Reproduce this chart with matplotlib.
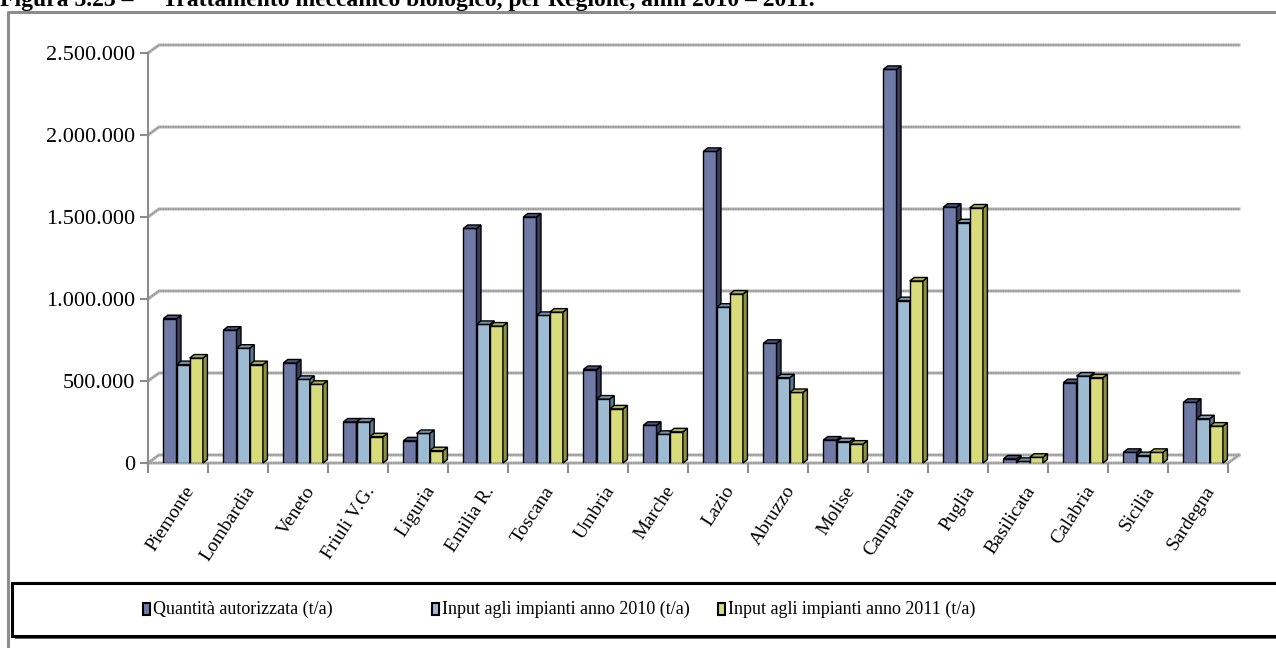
import matplotlib
matplotlib.use("Agg")
import matplotlib.pyplot as plt
from matplotlib.patches import Polygon, Rectangle
from matplotlib.lines import Line2D
from matplotlib.ticker import FuncFormatter

plt.rcParams["font.family"] = ["Liberation Serif", "DejaVu Serif"]

# ---- data -------------------------------------------------------------
regioni = ["Piemonte", "Lombardia", "Veneto", "Friuli V.G.", "Liguria",
           "Emilia R.", "Toscana", "Umbria", "Marche", "Lazio", "Abruzzo",
           "Molise", "Campania", "Puglia", "Basilicata", "Calabria",
           "Sicilia", "Sardegna"]

autorizzata = [880000, 810000, 610000, 250000, 135000, 1430000, 1500000,
               570000, 230000, 1900000, 730000, 140000, 2400000, 1560000,
               25000, 490000, 65000, 370000]
input_2010 = [600000, 700000, 510000, 250000, 180000, 845000, 900000,
              390000, 175000, 950000, 520000, 130000, 990000, 1465000,
              10000, 530000, 45000, 270000]
input_2011 = [640000, 600000, 480000, 160000, 75000, 835000, 920000,
              330000, 190000, 1030000, 430000, 115000, 1110000, 1555000,
              35000, 520000, 65000, 225000]

serie = ["Quantità autorizzata (t/a)",
         "Input agli impianti anno 2010 (t/a)",
         "Input agli impianti anno 2011 (t/a)"]
y_ticks = [0, 500000, 1000000, 1500000, 2000000, 2500000]

titolo = "Figura 3.23 \u2013     Trattamento meccanico biologico, per Regione, anni 2010 \u2013 2011."

# face colours: front, side, top
colori = [("#6F7AA6", "#363E60", "#4A5480"),
          ("#9DBBD3", "#5C7990", "#7893A8"),
          ("#D8DC7A", "#8D9240", "#ABB055")]

# ---- figure geometry (pixels) ----------------------------------------
W, H = 1276, 648
fig = plt.figure(figsize=(W / 100, H / 100), dpi=100)


def fx(px):
    return px / W


def fy(py):
    return 1 - py / H


AX_L, AX_R, AX_T, AX_B = 148, 1228, 53, 463
ax = fig.add_axes([fx(AX_L), fy(AX_B), (AX_R - AX_L) / W, (AX_B - AX_T) / H])
n = len(regioni)
ymax = 2500000
ax.set_xlim(0, n)
ax.set_ylim(0, ymax)

ux = n / (AX_R - AX_L)          # data units per pixel (x)
uy = ymax / (AX_B - AX_T)       # data units per pixel (y)

# ---- walls and floor ----------------------------------------------------
grid_c = "#b3b3b3"
grid_dot = "#8a8a8a"
wdx, wdy = 11 * ux, 8 * uy


def grid_line(xs, ys):
    ax.add_line(Line2D(xs, ys, color=grid_c, lw=2.2, clip_on=False, zorder=1))
    ax.add_line(Line2D(xs, ys, color=grid_dot, lw=0.9, ls=(0, (1, 1)),
                       clip_on=False, zorder=1.1))


for t in y_ticks:
    grid_line([0, wdx, n + wdx], [t, t + wdy, t + wdy])

# floor front edge and right edge
grid_line([0, n, n + wdx], [0, 0, wdy])

for s in ["top", "right", "bottom"]:
    ax.spines[s].set_visible(False)
ax.spines["left"].set_color("#8c8c8c")
ax.spines["left"].set_linewidth(1.5)
ax.set_facecolor("none")

ax.set_yticks(y_ticks)
ax.yaxis.set_major_formatter(
    FuncFormatter(lambda v, p: f"{int(v):,}".replace(",", ".")))
ax.tick_params(axis="y", length=6, width=1.5, color="#8c8c8c",
               labelsize=16, pad=3, labelcolor="black")
ax.set_xticks(range(n + 1))
ax.set_xticklabels([])
ax.tick_params(axis="x", length=7, width=1.5, color="#8c8c8c")

# ---- 3D-looking columns ----------------------------------------------
bw = 13.2 * ux
g0 = 15.3 * ux
ddx, ddy = 4.5 * ux, 3.5 * uy

for j, vals in enumerate([autorizzata, input_2010, input_2011]):
    front, side, top = colori[j]
    z = 3 + j * 0.1
    lefts = [i + g0 + j * bw for i in range(n)]
    ax.bar(lefts, vals, width=bw, align="edge", color=front,
           edgecolor="black", linewidth=1.0, zorder=z)
    for l, v in zip(lefts, vals):
        r = l + bw
        ax.add_patch(Polygon([(r, 0), (r + ddx, ddy), (r + ddx, v + ddy), (r, v)],
                             closed=True, facecolor=side, edgecolor="black",
                             linewidth=1.0, zorder=z + 0.01, clip_on=False))
        ax.add_patch(Polygon([(l, v), (l + ddx, v + ddy), (r + ddx, v + ddy), (r, v)],
                             closed=True, facecolor=top, edgecolor="black",
                             linewidth=1.0, zorder=z + 0.02, clip_on=False))

# category labels
for i, name in enumerate(regioni):
    ax.text(i + 0.5 + 6 * ux, -20 * uy, name, rotation=57,
            rotation_mode="anchor", ha="right", va="top", fontsize=14,
            clip_on=False)

# ---- outer frame and title ---------------------------------------------
fig.add_artist(Line2D([fx(8), fx(8), fx(W + 5)], [fy(H + 5), fy(12), fy(12)],
                      color="#8c8c8c", lw=2.2))
fig.text(fx(0), fy(6), titolo, fontsize=17, fontweight="bold",
         ha="left", va="baseline")

# ---- legend -----------------------------------------------------------
LG_L, LG_T, LG_B = 12, 583, 636
fig.add_artist(Rectangle((fx(LG_L + 3), fy(LG_B + 3)), (W + 20 - LG_L) / W,
                         (LG_B - LG_T) / H, facecolor="#606060",
                         edgecolor="none", transform=fig.transFigure))
fig.add_artist(Rectangle((fx(LG_L), fy(LG_B)), (W + 20 - LG_L) / W,
                         (LG_B - LG_T) / H, facecolor="white",
                         edgecolor="black", lw=2.2, transform=fig.transFigure))
leg_x = [143, 432, 718]
ymid = 609
for j, (name, xp) in enumerate(zip(serie, leg_x)):
    fig.add_artist(Rectangle((fx(xp), fy(ymid + 6)), 7 / W, 12 / H,
                             facecolor=colori[j][0], edgecolor="black",
                             lw=1.5, transform=fig.transFigure))
    fig.text(fx(xp + 10), fy(ymid), name, fontsize=13, ha="left",
             va="center")

fig.savefig("out.png", dpi=100)
